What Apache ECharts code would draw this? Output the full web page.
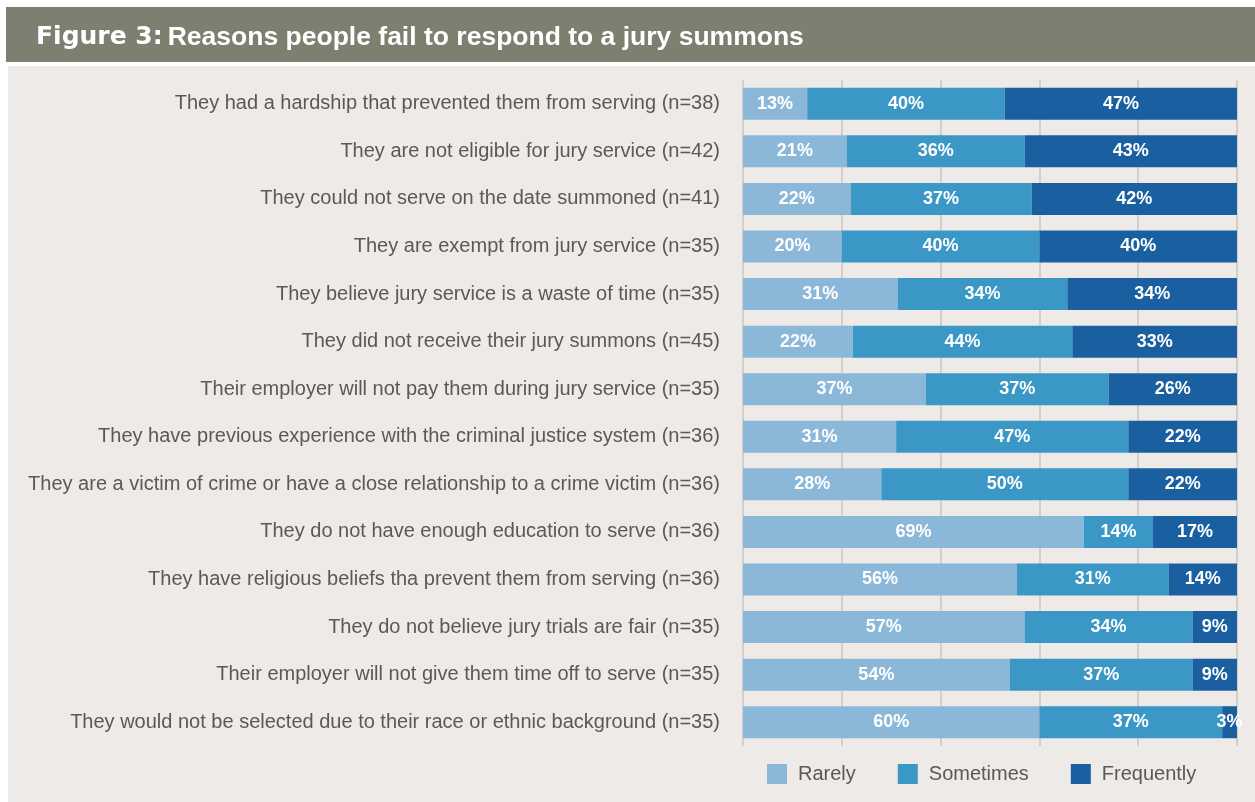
<!DOCTYPE html>
<html>
<head>
<meta charset="utf-8">
<script src="https://cdn.jsdelivr.net/npm/echarts@6/dist/echarts.min.js"></script>
<style>
  html, body { margin: 0; padding: 0; background: #fff; }
  #main { width: 1255px; height: 802px; }
</style>
</head>
<body>
<div id="main"></div>
<script>
var reasons = [
  "They had a hardship that prevented them from serving (n=38)",
  "They are not eligible for jury service (n=42)",
  "They could not serve on the date summoned (n=41)",
  "They are exempt from jury service (n=35)",
  "They believe jury service is a waste of time (n=35)",
  "They did not receive their jury summons (n=45)",
  "Their employer will not pay them during jury service (n=35)",
  "They have previous experience with the criminal justice system (n=36)",
  "They are a victim of crime or have a close relationship to a crime victim (n=36)",
  "They do not have enough education to serve (n=36)",
  "They have religious beliefs tha prevent them from serving (n=36)",
  "They do not believe jury trials are fair (n=35)",
  "Their employer will not give them time off to serve (n=35)",
  "They would not be selected due to their race or ethnic background (n=35)"
];
var rarely     = [13, 21, 22, 20, 31, 22, 37, 31, 28, 69, 56, 57, 54, 60];
var sometimes  = [40, 36, 37, 40, 34, 44, 37, 47, 50, 14, 31, 34, 37, 37];
var frequently = [47, 43, 42, 40, 34, 33, 26, 22, 22, 17, 14, 9, 9, 3];

var seriesNames = ["Rarely", "Sometimes", "Frequently"];
var seriesColors = ["#8bb8d8", "#3a97c6", "#1a60a0"];
var seriesData = [rarely, sometimes, frequently];

// each row is a 100% bar; the printed labels are rounded so scale to the row total
function rowTotal(i) { return rarely[i] + sometimes[i] + frequently[i]; }

var chart = echarts.init(document.getElementById("main"));

var series = seriesData.map(function (arr, s) {
  return {
    name: seriesNames[s],
    type: "bar",
    stack: "all",
    barWidth: 32,
    itemStyle: { color: seriesColors[s] },
    label: {
      show: true,
      position: "inside",
      color: "#fff",
      fontFamily: "Liberation Sans, Arial, sans-serif",
      fontWeight: "bold",
      fontSize: 18,
      formatter: function (p) { return arr[p.dataIndex] + "%"; }
    },
    data: arr.map(function (v, i) { return v / rowTotal(i) * 100; })
  };
});

var option = {
  backgroundColor: "#ffffff",
  animation: false,
  graphic: [
    { type: "rect", z: -10, shape: { x: 6, y: 7, width: 1249, height: 55 }, style: { fill: "#7f7f71" } },
    { type: "rect", z: -10, shape: { x: 8, y: 66, width: 1247, height: 736 }, style: { fill: "#edeae8" } }
  ],
  title: {
    left: 31,
    top: 19,
    text: "{a|Figure 3:} {b|Reasons people fail to respond to a jury summons}",
    textStyle: {
      rich: {
        a: { fontFamily: "DejaVu Sans", fontWeight: "bold", fontSize: 25, color: "#fff" },
        b: { fontFamily: "Liberation Sans, Arial, sans-serif", fontWeight: "bold", fontSize: 26.5, color: "#fff" }
      }
    }
  },
  legend: {
    data: seriesNames,
    left: 767,
    top: 764,
    padding: 0,
    itemWidth: 20,
    itemHeight: 20,
    itemGap: 42,
    icon: "rect",
    textStyle: { fontFamily: "Liberation Sans, Arial, sans-serif", fontSize: 20, color: "#595959", padding: [0, 0, 0, 6] }
  },
  grid: { left: 743, right: 18, top: 80, bottom: 56 },
  xAxis: {
    type: "value",
    min: 0,
    max: 100,
    interval: 20,
    axisLabel: { show: false },
    axisLine: { show: false },
    axisTick: { show: false },
    splitLine: { show: true, lineStyle: { color: "#d3cfcb", width: 2 } }
  },
  yAxis: {
    type: "category",
    inverse: true,
    data: reasons,
    axisLine: { show: false },
    axisTick: { show: false },
    axisLabel: {
      margin: 23,
      fontFamily: "Liberation Sans, Arial, sans-serif",
      fontSize: 20,
      color: "#595959"
    }
  },
  series: series
};

chart.setOption(option);
</script>
</body>
</html>
